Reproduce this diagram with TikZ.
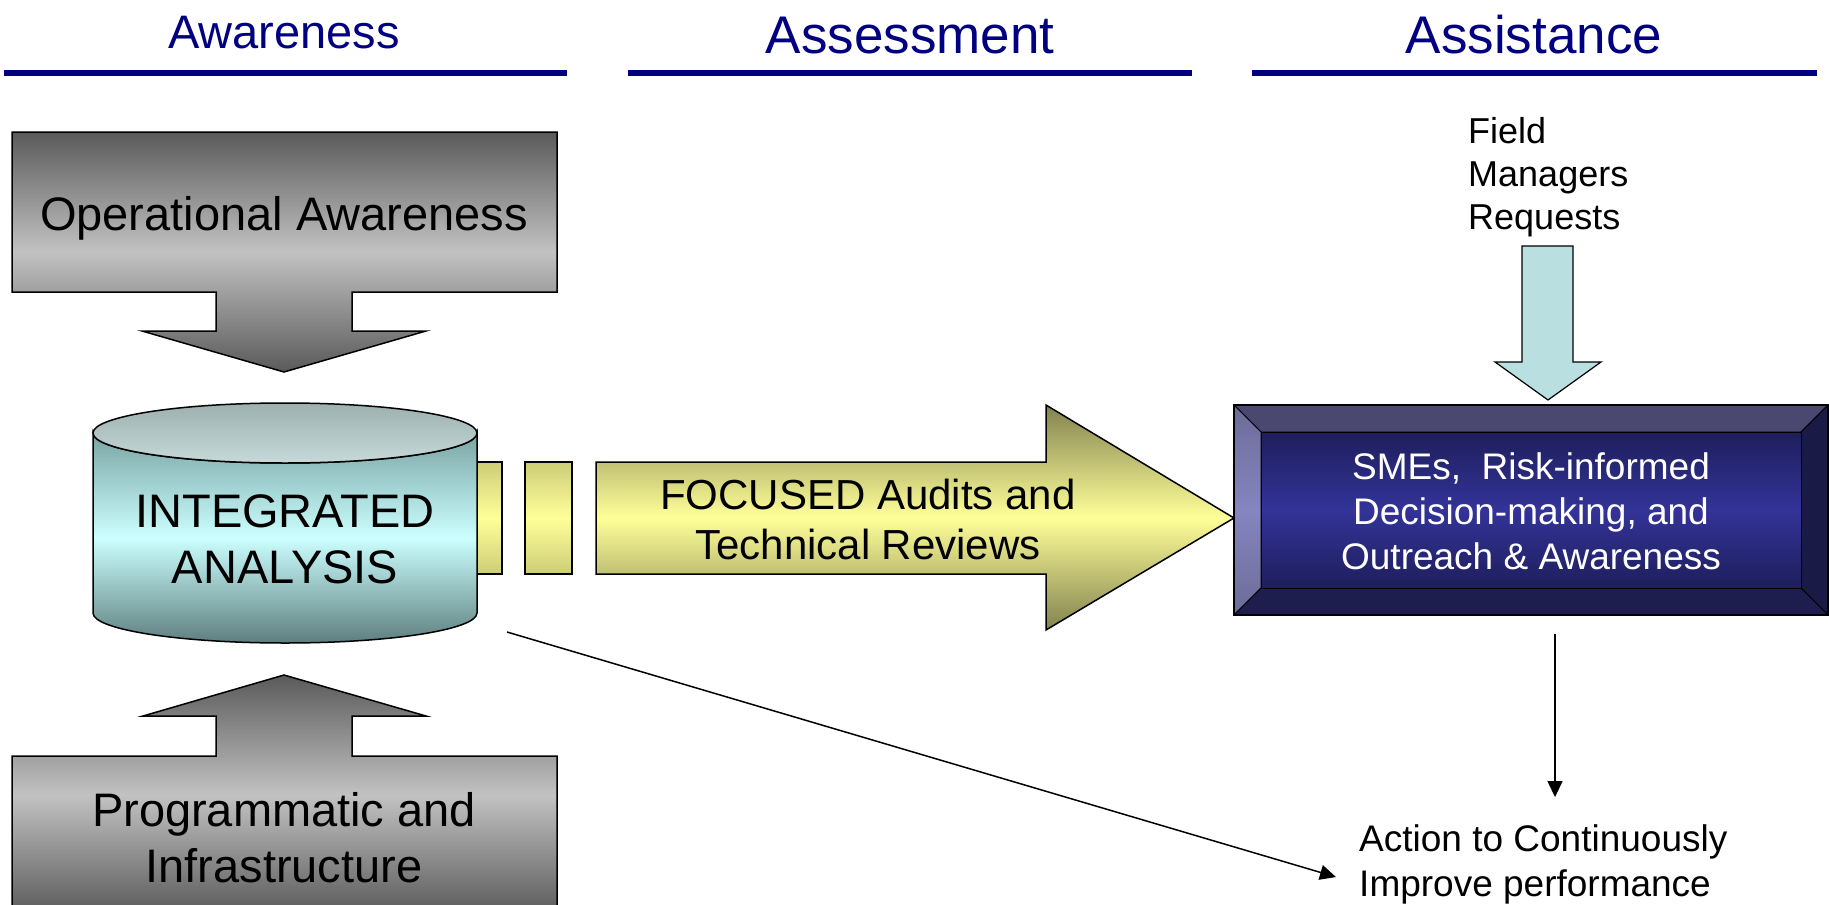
\documentclass[tikz,border=0pt]{standalone}
\usepackage{fontspec}
\setmainfont{Liberation Sans}
\usetikzlibrary{arrows.meta,calc}

\definecolor{navyhead}{RGB}{0,0,128}
\definecolor{greydark}{RGB}{90,90,90}
\definecolor{greylight}{RGB}{194,194,194}
\definecolor{tealdark}{RGB}{122,164,164}
\definecolor{tealbottom}{RGB}{94,126,126}
\definecolor{cyanlight}{RGB}{204,255,255}
\definecolor{captop}{RGB}{157,175,175}
\definecolor{capbottom}{RGB}{199,218,218}
\definecolor{olivedark}{RGB}{130,130,80}
\definecolor{olivemid}{RGB}{205,205,120}
\definecolor{yellowlight}{RGB}{255,255,153}
\definecolor{reqblue}{RGB}{185,223,225}
\definecolor{smemid}{RGB}{51,51,153}
\definecolor{smeedge}{RGB}{30,30,92}
\definecolor{beveltop}{RGB}{74,72,112}
\definecolor{bevelleft}{RGB}{133,133,192}
\definecolor{bevelleftdark}{RGB}{108,108,152}
\definecolor{bevelright}{RGB}{26,26,70}
\definecolor{bevelbottom}{RGB}{30,30,78}

\tikzset{
    %Define standard arrow tip
    >={Triangle[length=16pt,width=15pt]},
    %Define style for headings
    heading/.style={
           anchor=base,
           inner sep=0pt,
           text=navyhead},
    headbar/.style={
           fill=navyhead},
    %Define style for block arrows
    greyarrow/.style={
           draw=black, line width=1.5pt,
           top color=greydark,
           bottom color=greydark,
           middle color=greylight},
    yellowarrow/.style={
           draw=black, line width=1.5pt,
           top color=olivedark,
           bottom color=olivedark,
           middle color=yellowlight},
    yellowbar/.style={
           draw=black, line width=1.5pt,
           top color=olivemid,
           bottom color=olivemid,
           middle color=yellowlight},
    requestarrow/.style={
           draw=black, line width=1.2pt,
           fill=reqblue},
    %Define style for the database
    cylside/.style={
           draw=black, line width=1.5pt,
           top color=tealdark,
           bottom color=tealbottom,
           middle color=cyanlight},
    cyltop/.style={
           draw=black, line width=1.5pt,
           top color=captop,
           bottom color=capbottom},
    %Define style for bevel box
    bevel/.style={
           draw=black, line width=0.8pt},
    %Define style for texts
    bigtext/.style={
           align=center,
           inner sep=0pt,
           font=\fontsize{47}{56}\selectfont},
    midtext/.style={
           align=center,
           inner sep=0pt,
           font=\fontsize{42}{50}\selectfont},
    smalltext/.style={
           align=left,
           inner sep=0pt,
           font=\fontsize{37}{45}\selectfont},
    % Define arrow style
    pil/.style={
           ->,
           line width=1.5pt}
}

\begin{document}
\begin{tikzpicture}[x=1pt,y=1pt]
 \useasboundingbox (0,0) rectangle (1829,-905);
 \clip (0,0) rectangle (1829,-905);

 %headings
 \node[heading, font=\fontsize{47}{56}\selectfont] (hawr) at (284,-48) {Awareness};
 \node[heading, font=\fontsize{53}{62}\selectfont] (hass) at (910,-53.5) {Assessment};
 \node[heading, font=\fontsize{53}{62}\selectfont] (hasi) at (1534,-53.5) {Assistance};
 \fill[headbar] (3.5,-70) rectangle (567,-76);
 \fill[headbar] (628,-70) rectangle (1192,-76);
 \fill[headbar] (1252,-70) rectangle (1817,-76);

 %grey block arrows
 \path[greyarrow] (12,-132) -- (557,-132) -- (557,-292) -- (352,-292) -- (352,-331)
    -- (426,-331) -- (284,-372) -- (142,-331) -- (216,-331) -- (216,-292) -- (12,-292) -- cycle;
 \node[bigtext, anchor=base] (opa) at (284,-230) {Operational Awareness};

 \path[greyarrow] (12,-915) -- (12,-756) -- (216,-756) -- (216,-716) -- (143,-716)
    -- (284,-675) -- (426,-716) -- (352,-716) -- (352,-756) -- (557,-756) -- (557,-915) -- cycle;
 \node[bigtext] (prog) at (284,-838) {Programmatic and\\Infrastructure};

 %yellow bars and arrow
 \path[yellowbar] (470,-462) rectangle (502,-574);
 \path[yellowbar] (525,-462) rectangle (572,-574);
 \path[yellowarrow] (596,-462) -- (1046,-462) -- (1046,-405) -- (1234,-518)
    -- (1046,-630) -- (1046,-574) -- (596,-574) -- cycle;
 \node[midtext] (focus) at (868,-519) {FOCUSED Audits and\\Technical Reviews};

 %database
 \path[cylside] (93,-433) -- (93,-613) arc[start angle=180, end angle=360, x radius=192, y radius=30]
    -- (477,-433) arc[start angle=0, end angle=-180, x radius=192, y radius=30] -- cycle;
 \path[cyltop] (285,-433) ellipse[x radius=192, y radius=30];
 \node[bigtext] (ia) at (285,-539) {INTEGRATED\\ANALYSIS};

 %bevel box
 \path[bevel, fill=beveltop] (1234,-405) -- (1828,-405) -- (1801,-432) -- (1261,-432) -- cycle;
 \path[bevel, top color=bevelleftdark, bottom color=bevelleftdark, middle color=bevelleft]
    (1234,-405) -- (1261,-432) -- (1261,-588) -- (1234,-615) -- cycle;
 \path[bevel, fill=bevelright] (1828,-405) -- (1828,-615) -- (1801,-588) -- (1801,-432) -- cycle;
 \path[bevel, fill=bevelbottom] (1234,-615) -- (1261,-588) -- (1801,-588) -- (1828,-615) -- cycle;
 \path[bevel, top color=smeedge, bottom color=smeedge, middle color=smemid]
    (1261,-432) rectangle (1801,-588);
 \node[draw=black, line width=1.2pt, minimum width=594pt, minimum height=210pt] (sme) at (1531,-510) {};
 \node[smalltext, align=center, text=white] (smetxt) at (1531,-511.5)
    {SMEs,\ \ Risk-informed\\Decision-making, and\\Outreach \& Awareness};

 %field request
 \node[smalltext, font=\fontsize{36}{43}\selectfont, anchor=west] (fmr) at (1468,-177.6)
    {Field\\Managers\\Requests};
 \path[requestarrow] (1522,-246) -- (1573,-246) -- (1573,-362) -- (1601,-362)
    -- (1548,-400) -- (1495,-362) -- (1522,-362) -- cycle;

 %result
 \node[smalltext, anchor=west] (act) at (1359,-864) {Action to Continuously\\Improve performance};

 %connectors
 \coordinate (iaout) at (507,-632);
 \coordinate (smeout) at ([xshift=24pt,yshift=-18pt]sme.south);
 \draw[pil] (iaout) -- ([xshift=-23pt,yshift=-13pt]act.west);
 \draw[pil, shorten >=27pt] (smeout) -- (smeout |- act.north);

\end{tikzpicture}
\end{document}
